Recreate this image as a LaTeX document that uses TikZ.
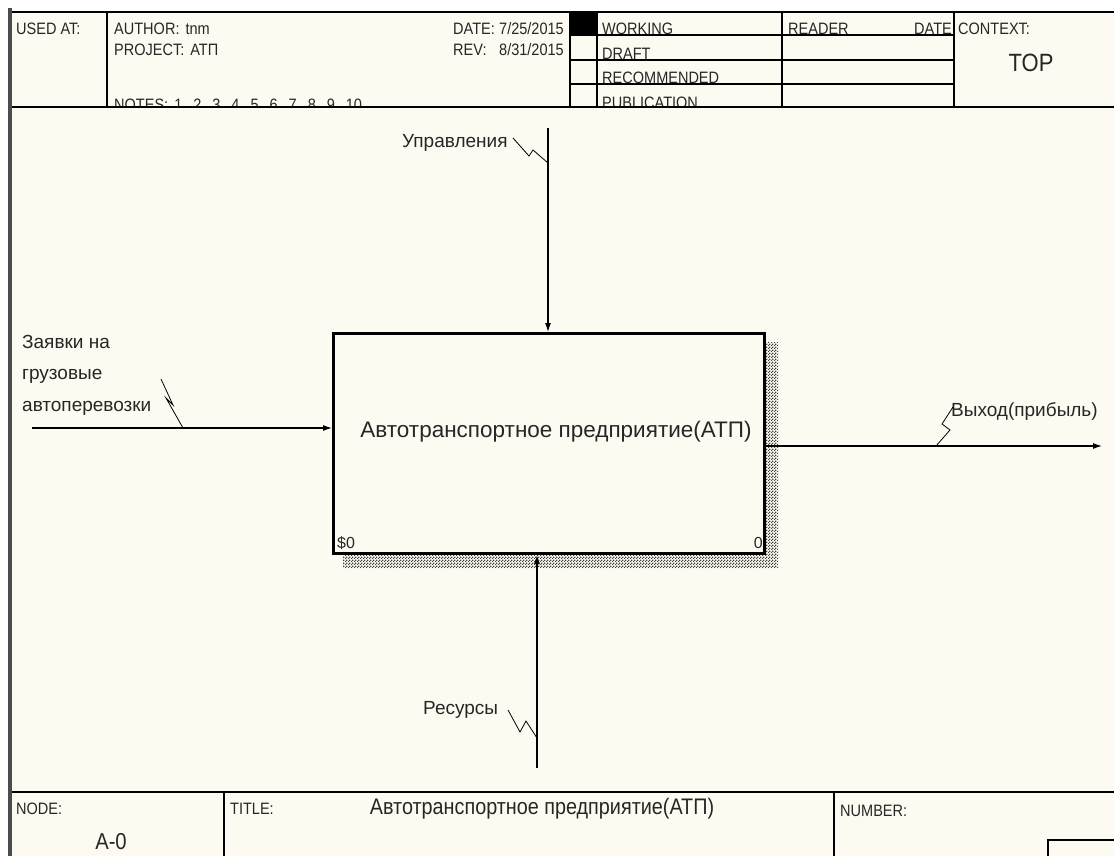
\documentclass[tikz,border=0pt]{standalone}
\usepackage{fontspec}
\setmainfont{Liberation Sans}
\newfontfamily\hdrfont[FakeStretch=0.88]{Liberation Sans}
\usetikzlibrary{arrows.meta,patterns}
\definecolor{paper}{HTML}{FDFBF1}
\pgfdeclarepatternformonly{shadecheck}{\pgfpointorigin}{\pgfqpoint{3pt}{3pt}}{\pgfqpoint{3pt}{3pt}}{%
  \pgfpathrectangle{\pgfpointorigin}{\pgfqpoint{1.5pt}{1.5pt}}%
  \pgfpathrectangle{\pgfqpoint{1.5pt}{1.5pt}}{\pgfqpoint{1.5pt}{1.5pt}}%
  \pgfusepath{fill}}
\begin{document}
\begin{tikzpicture}[x=1pt,y=-1pt,
  hdr/.style={font=\hdrfont\fontsize{16.5}{18}\selectfont, inner sep=0pt, anchor=base west, text=black!85},
  lbl/.style={font=\fontsize{19}{20}\selectfont, inner sep=0pt, text=black!85},
  rule/.style={line width=1.3pt, black},
  arr/.style={line width=1.1pt, -{Latex[length=9pt,width=6pt]}},
  squig/.style={line width=0.8pt},
  procbox/.style={draw, line width=3pt, minimum width=431pt, minimum height=220pt, fill=paper, inner sep=0pt}]

\useasboundingbox (0,0) rectangle (1114,856);
\fill[white] (0,0) rectangle (1114,856);
\fill[paper] (10,12) rectangle (1114,856);

% ---------- header texts
\node[hdr] (usedat) at (16,35) {USED AT:};
\node[hdr] (author) at (114,35) {AUTHOR:\hspace{6pt}tnm};
\node[hdr] (project) at (114,56) {PROJECT:\hspace{6pt}АТП};
\node[hdr] (notes) at (114,111) {NOTES:\hspace{6pt}1\hspace{11pt}2\hspace{11pt}3\hspace{11pt}4\hspace{11pt}5\hspace{11pt}6\hspace{11pt}7\hspace{11pt}8\hspace{11pt}9\hspace{11pt}10};
\node[hdr] (date) at (453,35) {\makebox[46pt][l]{DATE:}7/25/2015};
\node[hdr] (rev) at (453,56) {\makebox[46pt][l]{REV:}8/31/2015};
\node[hdr] (working) at (602,35) {WORKING};
\node[hdr] (draft) at (602,59.5) {DRAFT};
\node[hdr] (recom) at (602,83.5) {RECOMMENDED};
\node[hdr] (publ) at (602,109) {PUBLICATION};
\node[hdr] (reader) at (788,35) {READER};
\node[hdr, anchor=base east] (rdate) at (952,35) {DATE};
\node[hdr] (context) at (958,35) {CONTEXT:};
\node[font=\hdrfont\fontsize{25}{26}\selectfont, inner sep=0pt, text=black!85] (top) at (1031,63) {TOP};

% clip bottoms of the last header row
\fill[paper] (12,107) rectangle (1114,791);

% ---------- header rules
\draw[rule] (10,12) -- (1114,12);
\draw[rule] (10,107) -- (1114,107);
\draw[rule] (107,12) -- (107,107);
\draw[rule] (570,12) -- (570,107);
\draw[rule] (597,12) -- (597,107);
\draw[rule] (782,12) -- (782,107);
\draw[rule] (954,12) -- (954,107);
\draw[rule] (570,35) -- (954,35);
\draw[rule] (570,60) -- (954,60);
\draw[rule] (570,84) -- (954,84);
\fill[black] (570,12) rectangle (597,35);

% ---------- footer
\draw[rule] (10,792) -- (1114,792);
\draw[rule] (224,792) -- (224,856);
\draw[rule] (834,792) -- (834,856);
\draw[rule] (1048,856) -- (1048,840) -- (1114,840);
\node[hdr] (nodelbl) at (16,814) {NODE:};
\node[hdr] (titlelbl) at (230,814) {TITLE:};
\node[hdr] (numlbl) at (840,816) {NUMBER:};
\node[font=\hdrfont\fontsize{23}{24}\selectfont, inner sep=0pt, text=black!85] (nodeid) at (111,842) {A-0};
\node[font=\hdrfont\fontsize{22.5}{24}\selectfont, inner sep=0pt, text=black!85] (title) at (542,809) {Автотранспортное предприятие(АТП)};

% left frame edge
\draw[line width=4pt, black!70] (10,8) -- (10,856);

% ---------- activity box with hatched shadow
\fill[pattern=shadecheck, pattern color=black!75] (766,342) -- (778,342) -- (778,568) -- (343,568) -- (343,555) -- (766,555) -- cycle;
\node[procbox] (box) at (549,443.5) {};
\node[font=\fontsize{22.5}{24}\selectfont, inner sep=0pt, text=black!85] (boxtext) at (556,432) {Автотранспортное предприятие(АТП)};
\node[font=\fontsize{16}{18}\selectfont, inner sep=0pt, anchor=west, text=black!85] (cost) at (337,543) {\$0};
\node[font=\fontsize{16}{18}\selectfont, inner sep=0pt, anchor=east, text=black!85] (boxnum) at (763,543) {0};

% ---------- control
\coordinate (ctlS) at (548,128);
\draw[arr] (ctlS) -- (ctlS |- box.north);
\node[lbl, anchor=west] (ctlL) at (402,143) {Управления};
\coordinate (ctlA) at (513,138);
\coordinate (ctlB) at (548,163);
\draw[squig] (ctlA) -- (529,156) -- (533,150) -- (ctlB);

% ---------- input
\coordinate (inS) at (32,428);
\draw[arr] (inS) -- (inS -| box.west);
\node[lbl, anchor=north west, align=left, font=\fontsize{19}{31.5}\selectfont] (inL) at (22,335) {Заявки на\\грузовые\\автоперевозки};
\coordinate (inA) at (161,379);
\coordinate (inB) at (183,428);
\draw[squig] (inA) -- (173,405) -- (166,398) -- (inB);

% ---------- output
\coordinate (outE) at (1102,446);
\draw[arr] (box.east |- outE) -- (outE);
\node[lbl, anchor=west] (outL) at (951,412) {Выход(прибыль)};
\coordinate (outA) at (953,407);
\coordinate (outB) at (936,446);
\draw[squig] (outA) -- (942,424) -- (950,430) -- (outB);

% ---------- mechanism
\coordinate (mechS) at (537,768);
\draw[arr] (mechS) -- (mechS |- box.south);
\node[lbl, anchor=west] (mechL) at (423,710) {Ресурсы};
\coordinate (mechA) at (508,710);
\coordinate (mechB) at (537,738);
\draw[squig] (mechA) -- (520,732) -- (526,721) -- (mechB);
\end{tikzpicture}
\end{document}
